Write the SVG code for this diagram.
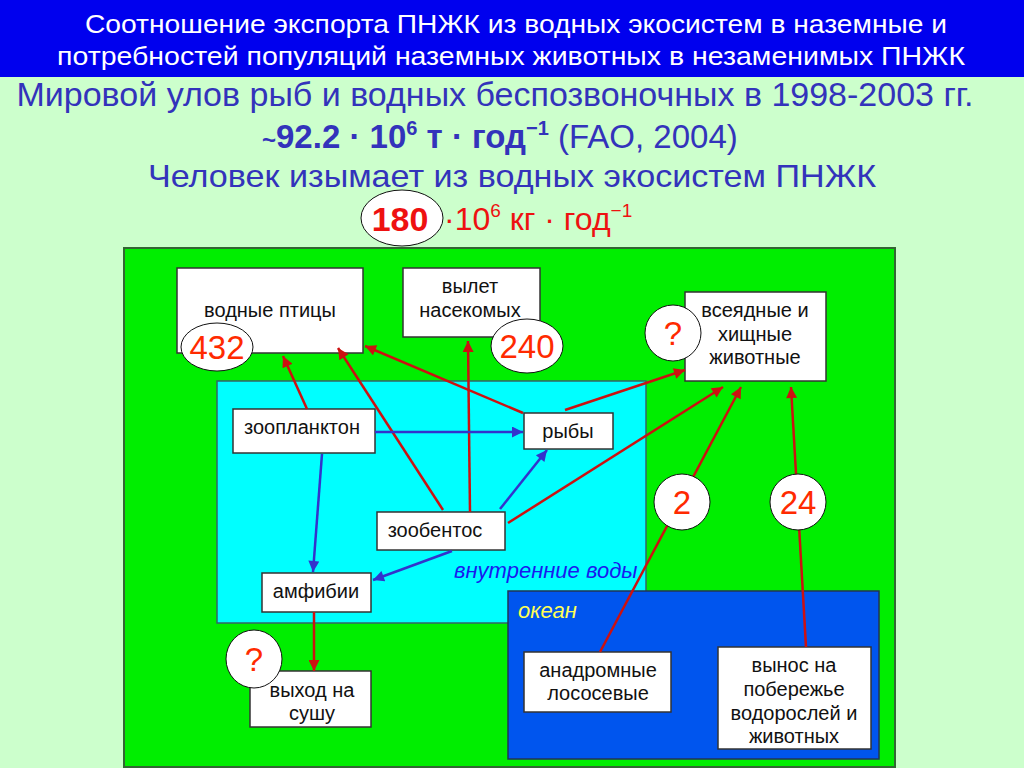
<svg xmlns="http://www.w3.org/2000/svg" width="1024" height="768" viewBox="0 0 1024 768">
<style>
  text { font-family: "Liberation Sans", Arial, sans-serif; }
  .hdr { fill: #ffffff; font-size: 25px; }
  .sub { fill: #3333bb; }
  .box { fill: #ffffff; stroke: #333333; stroke-width: 1.5; }
  .lbl { fill: #111111; font-size: 20px; text-anchor: middle; }
  .ell { fill: #ffffff; stroke: #111111; stroke-width: 1; }
  .num { fill: #ff2a00; font-size: 33px; text-anchor: middle; }
  .red { stroke: #cc1111; stroke-width: 2.5; fill: none; marker-end: url(#ar); }
  .blue { stroke: #3333cc; stroke-width: 2.5; fill: none; marker-end: url(#ab); }
</style>
<defs>
  <marker id="ar" viewBox="0 0 10 10" refX="10" refY="5" markerWidth="15" markerHeight="11" markerUnits="userSpaceOnUse" orient="auto">
    <path d="M0,0 L10,5 L0,10 z" fill="#cc1111"/>
  </marker>
  <marker id="ab" viewBox="0 0 10 10" refX="10" refY="5" markerWidth="15" markerHeight="11" markerUnits="userSpaceOnUse" orient="auto">
    <path d="M0,0 L10,5 L0,10 z" fill="#3333cc"/>
  </marker>
</defs>

<!-- background -->
<rect x="0" y="0" width="1024" height="768" fill="#ccffcc"/>
<rect x="0" y="0" width="1024" height="77" fill="#0000ee"/>

<!-- titles -->
<text class="hdr" x="516" y="33" text-anchor="middle" textLength="862" lengthAdjust="spacingAndGlyphs">Соотношение экспорта ПНЖК из водных экосистем в наземные и</text>
<text class="hdr" x="511" y="65" text-anchor="middle" textLength="908" lengthAdjust="spacingAndGlyphs">потребностей популяций наземных животных в незаменимых ПНЖК</text>
<text class="sub" x="495" y="106" font-size="34" text-anchor="middle" textLength="957" lengthAdjust="spacingAndGlyphs">Мировой улов рыб и водных беспозвоночных в 1998-2003 гг.</text>
<text class="sub" x="262" y="148" font-size="33"><tspan font-weight="bold" font-size="24">~</tspan><tspan font-weight="bold">92.2 · 10</tspan><tspan font-weight="bold" font-size="20" dy="-13">6</tspan><tspan font-weight="bold" dy="13"> т · год</tspan><tspan font-weight="bold" font-size="20" dy="-13">−1</tspan><tspan dy="13"> (FAO, 2004)</tspan></text>
<text class="sub" x="512" y="187" font-size="32" text-anchor="middle" textLength="728" lengthAdjust="spacingAndGlyphs">Человек изымает из водных экосистем ПНЖК</text>

<g id="total">
  <ellipse class="ell" cx="402" cy="218" rx="41" ry="28"/>
  <text x="400" y="231" font-size="34" font-weight="bold" fill="#ee1111" text-anchor="middle">180</text>
  <text x="444" y="230" font-size="32" fill="#ee1111">·10<tspan font-size="19" dy="-13">6</tspan><tspan dy="13"> кг · год</tspan><tspan font-size="19" dy="-13">−1</tspan></text>
</g>

<!-- regions -->
<g id="land">
  <rect x="124" y="248" width="771" height="519" fill="#00ee00" stroke="#336633" stroke-width="2"/>
</g>
<g id="inland-waters">
  <rect x="217" y="381" width="429" height="242" fill="#00ffff" stroke="#336666" stroke-width="1.5"/>
  <text x="454" y="578" font-size="22" font-style="italic" fill="#1a1aee">внутренние воды</text>
</g>
<g id="ocean">
  <rect x="508" y="591" width="371" height="168" fill="#0055ee" stroke="#223355" stroke-width="1.5"/>
  <text x="518" y="618" font-size="22" font-style="italic" fill="#ffff55">океан</text>
</g>

<!-- nodes -->
<g id="n-birds">
  <rect class="box" x="177" y="268" width="186" height="85"/>
  <text class="lbl" x="270" y="317">водные птицы</text>
</g>
<g id="n-insects">
  <rect class="box" x="403" y="268" width="137" height="69"/>
  <text class="lbl" x="470" y="293">вылет</text>
  <text class="lbl" x="470" y="317">насекомых</text>
</g>
<g id="n-predators">
  <rect class="box" x="685" y="292" width="141" height="89"/>
  <text class="lbl" x="755" y="317">всеядные и</text>
  <text class="lbl" x="755" y="341">хищные</text>
  <text class="lbl" x="755" y="364">животные</text>
</g>
<g id="n-zooplankton">
  <rect class="box" x="233" y="409" width="142" height="44"/>
  <text class="lbl" x="302" y="434">зоопланктон</text>
</g>
<g id="n-fish">
  <rect class="box" x="524" y="413" width="89" height="36"/>
  <text class="lbl" x="568" y="438">рыбы</text>
</g>
<g id="n-zoobenthos">
  <rect class="box" x="377" y="512" width="128" height="38"/>
  <text class="lbl" x="435" y="537">зообентос</text>
</g>
<g id="n-amphibians">
  <rect class="box" x="262" y="573" width="109" height="39"/>
  <text class="lbl" x="316" y="598">амфибии</text>
</g>
<g id="n-land-exit">
  <rect class="box" x="250" y="671" width="121" height="56"/>
  <text class="lbl" x="312" y="697">выход на</text>
  <text class="lbl" x="312" y="720">сушу</text>
</g>
<g id="n-salmon">
  <rect class="box" x="524" y="652" width="147" height="60"/>
  <text class="lbl" x="598" y="677">анадромные</text>
  <text class="lbl" x="598" y="700">лососевые</text>
</g>
<g id="n-coast">
  <rect class="box" x="718" y="647" width="153" height="102"/>
  <text class="lbl" x="794" y="672">вынос на</text>
  <text class="lbl" x="794" y="696">побережье</text>
  <text class="lbl" x="794" y="720">водорослей и</text>
  <text class="lbl" x="794" y="743">животных</text>
</g>

<!-- connectors -->
<g id="connectors">
  <line class="red" x1="307" y1="409" x2="283" y2="356"/>
  <line class="red" x1="443" y1="510" x2="338" y2="348"/>
  <line class="red" x1="523" y1="413" x2="365" y2="346"/>
  <line class="red" x1="470" y1="512" x2="468" y2="341"/>
  <line class="red" x1="565" y1="410" x2="685" y2="370"/>
  <line class="red" x1="508" y1="523" x2="723" y2="387"/>
  <line class="red" x1="600" y1="652" x2="741" y2="387"/>
  <line class="red" x1="806" y1="647" x2="791" y2="387"/>
  <line class="red" x1="314" y1="612" x2="314" y2="671"/>
  <line class="blue" x1="375" y1="432" x2="523" y2="432"/>
  <line class="blue" x1="322" y1="454" x2="313" y2="572"/>
  <line class="blue" x1="500" y1="509" x2="547" y2="450"/>
  <line class="blue" x1="452" y1="551" x2="373" y2="580"/>
</g>

<!-- value badges -->
<g id="v-birds">
  <ellipse class="ell" cx="217" cy="347" rx="36" ry="24"/>
  <text class="num" x="217" y="359">432</text>
</g>
<g id="v-insects">
  <ellipse class="ell" cx="527" cy="346" rx="36" ry="27"/>
  <text class="num" x="527" y="358">240</text>
</g>
<g id="v-predators">
  <circle class="ell" cx="673" cy="333" r="28"/>
  <text class="num" x="673" y="345">?</text>
</g>
<g id="v-salmon">
  <circle class="ell" cx="682" cy="502" r="28"/>
  <text class="num" x="682" y="514">2</text>
</g>
<g id="v-coast">
  <circle class="ell" cx="798" cy="502" r="28"/>
  <text class="num" x="798" y="514">24</text>
</g>
<g id="v-land-exit">
  <ellipse class="ell" cx="254" cy="659" rx="28" ry="29"/>
  <text class="num" x="254" y="671">?</text>
</g>
</svg>
